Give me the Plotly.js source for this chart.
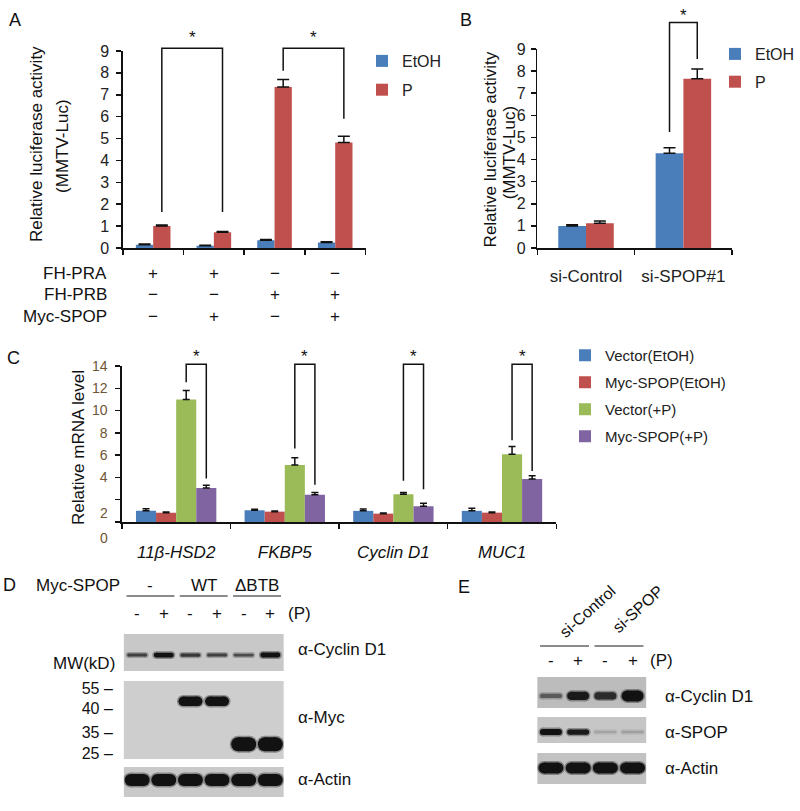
<!DOCTYPE html>
<html>
<head>
<meta charset="utf-8">
<script src="https://cdn.plot.ly/plotly-3.0.1.min.js"></script>
<style>
  html, body { margin: 0; padding: 0; background: #fff; }
  #fig { width: 800px; height: 811px; }
</style>
</head>
<body>
<div id="fig"></div>
<script>
// ================================
// DATA
// ================================

// A: MMTV-Luc reporter, PR-A / PR-B +/- Myc-SPOP
const aGroups = [0, 1, 2, 3];
const aEtOH = [0.15, 0.10, 0.35, 0.25];
const aEtOHErr = [0.03, 0.03, 0.04, 0.04];
const aP = [1.0, 0.72, 7.35, 4.82];
const aPErr = [0.05, 0.03, 0.35, 0.28];
const aRowNames = ["FH-PRA", "FH-PRB", "Myc-SPOP"];
const aRowSigns = [
  ["+", "+", "−", "−"],
  ["−", "−", "+", "+"],
  ["−", "+", "−", "+"]
];
// significance brackets (group index of left/right P bar, leg ends, top)
const aSigLeft = [0, 2];
const aSigRight = [1, 3];
const aSigLeftY = [1.65, 8.1];
const aSigRightY = [1.65, 5.9];
const aSigTop = [9.12, 9.12];

// B: si-SPOP knockdown
const bGroups = ["si-Control", "si-SPOP#1"];
const bEtOH = [1.0, 4.28];
const bEtOHErr = [0.05, 0.25];
const bP = [1.12, 7.65];
const bPErr = [0.1, 0.45];
const bSigGroup = [1];
const bSigLeftY = [5.25];
const bSigRightY = [8.55];
const bSigTop = [10.2];

// C: qPCR of PR target genes
const cGenes = ["11β-HSD2", "FKBP5", "Cyclin D1", "MUC1"];
const cNames = ["Vector(EtOH)", "Myc-SPOP(EtOH)", "Vector(+P)", "Myc-SPOP(+P)"];
const cVecEtOH = [1.0, 1.05, 1.0, 1.0];
const cVecEtOHErr = [0.2, 0.1, 0.17, 0.23];
const cMycEtOH = [0.84, 0.93, 0.75, 0.84];
const cMycEtOHErr = [0.05, 0.05, 0.05, 0.05];
const cVecP = [11.0, 5.12, 2.5, 6.08];
const cVecPErr = [0.8, 0.65, 0.15, 0.7];
const cMycP = [3.05, 2.44, 1.42, 3.85];
const cMycPErr = [0.25, 0.2, 0.27, 0.3];
const cSigLeftY = [12.55, 6.6, 3.7, 7.34];
const cSigRightY = [3.9, 3.34, 2.95, 4.58];
const cSigTop = [14.15, 14.15, 14.15, 14.15];
const cYTicks = [0, 2, 4, 6, 8, 10, 12, 14];

// D: western blot, Myc-SPOP WT / ΔBTB
const dGroups = ["-", "WT", "ΔBTB"];
const dSigns = ["-", "+", "-", "+", "-", "+"];
const dCyclin = [0.55, 0.85, 0.6, 0.55, 0.5, 0.9];
const dMycWT = [0, 0, 1, 1, 0, 0];
const dMycDelta = [0, 0, 0, 0, 1, 1];
const dActin = [1, 1, 1, 1, 1, 1];
const mwLabels = ["55", "40", "35", "25"];
const dBlotNames = ["α-Cyclin D1", "α-Myc", "α-Actin"];

// E: western blot, si-SPOP
const eGroups = ["si-Control", "si-SPOP"];
const eSigns = ["-", "+", "-", "+"];
const eCyclin = [0.4, 0.75, 0.65, 1.0];
const eSpop = [0.85, 0.75, 0.1, 0.12];
const eActin = [1, 1, 1, 1];
const eBlotNames = ["α-Cyclin D1", "α-SPOP", "α-Actin"];

// ================================
// LAYOUT HELPERS
// ================================
const W = 800, H = 811;
const FONT = "Arial, 'Liberation Sans', sans-serif";
const px = (x) => x / W;
const py = (y) => 1 - y / H;
const xdom = (a, b) => [px(a), px(b)];
const ydom = (top, bottom) => [py(bottom), py(top)];

const BLUE = "#4a7ebb", RED = "#c0504d", GREEN = "#9bbb59", PURPLE = "#8064a2";
const INK = "#111";

const traces = [];
const annotations = [];
const shapes = [];

function barTrace(x, y, err, k, n, gap, color, name, axN, legend, capW) {
  const w = (1 - gap) / n;
  return {
    type: "bar", x: x, y: y, name: name,
    xaxis: "x" + axN, yaxis: "y" + axN, legend: legend, legendgroup: legend + k,
    width: w, offset: -(1 - gap) / 2 + k * w,
    marker: { color: color, line: { width: 0 } },
    error_y: {
      type: "data", symmetric: false, array: err, arrayminus: err.map(() => 0),
      color: INK, thickness: 1.5, width: capW
    },
    hoverinfo: "skip"
  };
}

function barCenter(g, k, n, gap) {
  const w = (1 - gap) / n;
  return g - (1 - gap) / 2 + (k + 0.5) * w;
}

// brackets live on a taller twin y axis (same scale) so they can rise above the top tick
function bracket(xl, xr, yl, yr, top, xa, ya, starShift) {
  traces.push({
    type: "scatter", mode: "lines", x: [xl, xl, xr, xr], y: [yl, top, top, yr],
    xaxis: xa, yaxis: ya, line: { color: INK, width: 1.5 },
    showlegend: false, hoverinfo: "skip"
  });
  annotations.push({
    xref: xa, yref: ya, x: (xl + xr) / 2, y: top, xanchor: "center", yshift: starShift,
    yanchor: "bottom", text: "*", showarrow: false, font: { size: 17, color: INK }
  });
}

// -------------------------------
// A
// -------------------------------
const gapAB = 0.43, gapC = 0.26;
traces.push(barTrace(aGroups, aEtOH, aEtOHErr, 0, 2, gapAB, BLUE, "EtOH", "", "legend", 6));
traces.push(barTrace(aGroups, aP, aPErr, 1, 2, gapAB, RED, "P", "", "legend", 6));
aSigLeft.forEach((g, i) => {
  bracket(barCenter(g, 1, 2, gapAB), barCenter(aSigRight[i], 1, 2, gapAB),
    aSigLeftY[i], aSigRightY[i], aSigTop[i], "x", "y10", -1);
});
const aRowY = [273, 295, 317];
aRowNames.forEach((nm, r) => {
  annotations.push({ xref: "paper", yref: "paper", x: px(109), y: py(aRowY[r]), xanchor: "right",
    yanchor: "middle", text: nm, showarrow: false, font: { size: 17 } });
  aRowSigns[r].forEach((s, g) => {
    annotations.push({ xref: "x", yref: "paper", x: aGroups[g], y: py(aRowY[r]),
      xanchor: "center", yanchor: "middle", text: s, showarrow: false, font: { size: 17 } });
  });
});

// -------------------------------
// B
// -------------------------------
const bX = bGroups.map((_, i) => i);
traces.push(barTrace(bX, bEtOH, bEtOHErr, 0, 2, gapAB, BLUE, "EtOH", 2, "legend2", 6));
traces.push(barTrace(bX, bP, bPErr, 1, 2, gapAB, RED, "P", 2, "legend2", 6));
bSigGroup.forEach((g, i) => {
  bracket(barCenter(g, 0, 2, gapAB), barCenter(g, 1, 2, gapAB),
    bSigLeftY[i], bSigRightY[i], bSigTop[i], "x2", "y11", -5);
});

// -------------------------------
// C
// -------------------------------
const cX = cGenes.map((_, i) => i);
const cSeries = [[cVecEtOH, cVecEtOHErr, BLUE], [cMycEtOH, cMycEtOHErr, RED],
                 [cVecP, cVecPErr, GREEN], [cMycP, cMycPErr, PURPLE]];
cSeries.forEach((s, k) => {
  traces.push(barTrace(cX, s[0], s[1], k, 4, gapC, s[2], cNames[k], 3, "legend3", 3.5));
});
cX.forEach((g, i) => {
  bracket(barCenter(g, 2, 4, gapC), barCenter(g, 3, 4, gapC),
    cSigLeftY[i], cSigRightY[i], cSigTop[i], "x3", "y12", -4);
});
// the 2 and 0 labels sit lower than their ticks in the original
annotations.push({ xref: "paper", yref: "y3", x: px(110), y: 2, yshift: -13, xanchor: "right",
  yanchor: "middle", text: "2", showarrow: false, font: { size: 14, color: "#6e5535" } });
annotations.push({ xref: "paper", yref: "y3", x: px(110), y: 0, yshift: -16, xanchor: "right",
  yanchor: "middle", text: "0", showarrow: false, font: { size: 14, color: "#6e5535" } });

// -------------------------------
// BLOTS (D and E)
// -------------------------------
const DARK = [18, 18, 18];
function hex2rgb(h) { return [1, 3, 5].map((i) => parseInt(h.slice(i, i + 2), 16)); }
function mix(bg, a) {
  const b = hex2rgb(bg);
  return "rgb(" + b.map((c, i) => Math.round(c + (DARK[i] - c) * a)).join(",") + ")";
}

function bands(values, axN, cfg) {
  values.forEach((v, i) => {
    if (!v) return;
    const lane = i + 1;
    const lw = Math.max(2.5, cfg.maxW * v);
    const a = Math.min(1, 1.2 * Math.pow(v, 0.8));
    const half = Math.max(0.05, (cfg.halfPx - lw / 2) / cfg.lanePx);
    [[lw + 3, a * 0.35], [lw, a]].forEach(([w, al]) => {
      traces.push({
        type: "scatter", mode: "lines+markers",
        x: [lane - half, lane + half], y: [cfg.bandY, cfg.bandY],
        xaxis: "x" + axN, yaxis: "y" + axN,
        line: { color: mix(cfg.bg, al), width: w },
        marker: { color: mix(cfg.bg, al), size: w },
        showlegend: false, hoverinfo: "skip"
      });
    });
  });
}

// blot frames (pixel boxes)
const blotBox = {
  4: { x: [124, 284], y: [634, 671], bg: "#c8c8c8", lanes: 6 },
  5: { x: [124, 284], y: [681, 759], bg: "#cecece", lanes: 6 },
  6: { x: [124, 284], y: [767, 797], bg: "#c9c9c9", lanes: 6 },
  7: { x: [538, 647], y: [677, 708], bg: "#bcbcbc", lanes: 4 },
  8: { x: [538, 647], y: [717, 743], bg: "#c6c6c6", lanes: 4 },
  9: { x: [538, 647], y: [753, 784], bg: "#c2c2c2", lanes: 4 }
};
const lanePx = (n) => (blotBox[n].x[1] - blotBox[n].x[0]) / blotBox[n].lanes;

bands(dCyclin, 4, { bandY: 0.43, maxW: 5.5, halfPx: 10, lanePx: lanePx(4), bg: blotBox[4].bg });
bands(dMycWT, 5, { bandY: 0.74, maxW: 9.5, halfPx: 12, lanePx: lanePx(5), bg: blotBox[5].bg });
bands(dMycDelta, 5, { bandY: 0.19, maxW: 14, halfPx: 12.5, lanePx: lanePx(5), bg: blotBox[5].bg });
bands(dActin, 6, { bandY: 0.57, maxW: 12, halfPx: 12.5, lanePx: lanePx(6), bg: blotBox[6].bg });
bands(eCyclin, 7, { bandY: 0.39, maxW: 11, halfPx: 11, lanePx: lanePx(7), bg: blotBox[7].bg });
bands(eSpop, 8, { bandY: 0.42, maxW: 7, halfPx: 11, lanePx: lanePx(8), bg: blotBox[8].bg });
bands(eActin, 9, { bandY: 0.52, maxW: 11, halfPx: 12.5, lanePx: lanePx(9), bg: blotBox[9].bg });

// free text, centred on a pixel position unless told otherwise
const txt = (x, y, t, opts) => annotations.push(Object.assign({
  xref: "paper", yref: "paper", x: px(x), y: py(y), text: t, showarrow: false,
  xanchor: "center", yanchor: "middle", font: { size: 17, color: INK }
}, opts || {}));

// D text
txt(78, 585, "Myc-SPOP");
dGroups.forEach((gname, g) => {
  annotations.push({ xref: "x4", yref: "paper", x: 2 * g + 1.5, y: py(585), text: gname,
    xanchor: "center", yanchor: "middle", showarrow: false, font: { size: 17, color: INK } });
  shapes.push({ type: "line", xref: "x4", yref: "paper", x0: 2 * g + 1 - 0.4, x1: 2 * g + 2 + 0.4,
    y0: py(596), y1: py(596), line: { color: "#666", width: 1.5 } });
});
dSigns.forEach((s, i) => {
  annotations.push({ xref: "x4", yref: "paper", x: i + 1, y: py(613), text: s,
    xanchor: "center", yanchor: "middle", showarrow: false, font: { size: 17, color: INK } });
});
txt(300, 613, "(P)");
txt(117, 663, "MW(kD)", { xanchor: "right" });
[649, 717, 779].forEach((y, i) => txt(296, y, dBlotNames[i], { xanchor: "left" }));

// E text
eGroups.forEach((gname, g) => {
  shapes.push({ type: "line", xref: "x7", yref: "paper", x0: 2 * g + 1 - 0.4, x1: 2 * g + 2 + 0.4,
    y0: py(646), y1: py(646), line: { color: "#666", width: 1.5 } });
});
txt(588, 611, eGroups[0], { textangle: -42, font: { size: 16, color: INK } });
txt(638, 609, eGroups[1], { textangle: -42, font: { size: 16, color: INK } });
eSigns.forEach((s, i) => {
  annotations.push({ xref: "x7", yref: "paper", x: i + 1, y: py(660), text: s,
    xanchor: "center", yanchor: "middle", showarrow: false, font: { size: 17, color: INK } });
});
txt(662, 660, "(P)");
[696, 732, 768].forEach((y, i) => txt(664, y, eBlotNames[i], { xanchor: "left" }));

// y titles and panel letters
txt(37, 144, "Relative luciferase activity", { textangle: -90 });
txt(63, 146, "(MMTV-Luc)", { textangle: -90 });
txt(492, 149, "Relative luciferase activity", { textangle: -90 });
txt(510, 152, "(MMTV-Luc)", { textangle: -90 });
txt(78, 447, "Relative mRNA level", { textangle: -90 });
[["A", 15, 20], ["B", 467, 20], ["C", 14, 358], ["D", 10, 585], ["E", 465, 587]].forEach(
  (l) => txt(l[1], l[2], l[0], { font: { size: 18, color: INK } }));

// blot backgrounds
Object.keys(blotBox).forEach((n) => {
  shapes.push({ type: "rect", xref: "x" + n + " domain", yref: "y" + n + " domain",
    x0: 0, x1: 1, y0: 0, y1: 1, fillcolor: blotBox[n].bg, line: { width: 0 }, layer: "below" });
});

// ================================
// AXES
// ================================
const axBase = {
  showline: true, linecolor: INK, linewidth: 1.5, ticks: "outside", ticklen: 5,
  tickwidth: 1.5, tickcolor: INK, showgrid: false, zeroline: false, fixedrange: true
};
const hidden = { visible: false, fixedrange: true, showgrid: false, zeroline: false };

// pixel frames of the three charts: [left, right], [top tick, zero line]
const aFrame = { x: [123, 366], y: [51, 248], top: 9 };
const bFrame = { x: [538, 733], y: [49, 248], top: 9 };
const cFrame = { x: [122, 557], y: [366, 522], top: 14 };
// twin axis: same scale, taller domain (for brackets and stars)
function twin(f, xa, newTop) {
  const unit = (f.y[1] - f.y[0]) / f.top;
  return Object.assign({}, hidden, { domain: ydom(f.y[1] - unit * newTop, f.y[1]),
    range: [0, newTop], anchor: xa });
}

const layout = {
  width: W, height: H, autosize: false,
  margin: { l: 0, r: 0, t: 0, b: 0 },
  paper_bgcolor: "white", plot_bgcolor: "rgba(0,0,0,0)",
  font: { family: FONT, color: INK },
  showlegend: true,
  annotations: annotations,
  shapes: shapes,

  xaxis: Object.assign({}, axBase, { domain: xdom(aFrame.x[0], aFrame.x[1]), range: [-0.5, 3.5], anchor: "y",
    tickvals: [-0.5, 0.5, 1.5, 2.5, 3.5], showticklabels: false }),
  yaxis: Object.assign({}, axBase, { domain: ydom(aFrame.y[0], aFrame.y[1]), range: [0, 9], dtick: 1, anchor: "x",
    tickfont: { size: 16, color: "#222" }, ticklabelstandoff: 4 }),
  yaxis10: twin(aFrame, "x", 10),

  xaxis2: Object.assign({}, axBase, { domain: xdom(bFrame.x[0], bFrame.x[1]), range: [-0.5, 1.5], anchor: "y2",
    tickvals: bX, ticktext: bGroups, ticks: "", tickfont: { size: 17, color: "#222" },
    ticklabelstandoff: 12,
    minor: { tickvals: [-0.5, 0.5, 1.5], ticks: "outside", ticklen: 5, tickwidth: 1.5, tickcolor: INK } }),
  yaxis2: Object.assign({}, axBase, { domain: ydom(bFrame.y[0], bFrame.y[1]), range: [0, 9], dtick: 1, anchor: "x2",
    tickfont: { size: 16, color: "#222" }, ticklabelstandoff: 2 }),
  yaxis11: twin(bFrame, "x2", 10.7),

  xaxis3: Object.assign({}, axBase, { domain: xdom(cFrame.x[0], cFrame.x[1]), range: [-0.5, 3.5], anchor: "y3",
    tickvals: cX, ticktext: cGenes, ticks: "",
    tickfont: { size: 17, color: INK, style: "italic" }, ticklabelstandoff: 14,
    minor: { tickvals: [-0.5, 0.5, 1.5, 2.5, 3.5], ticks: "outside", ticklen: 5, tickwidth: 1.5, tickcolor: INK } }),
  yaxis3: Object.assign({}, axBase, { domain: ydom(cFrame.y[0], cFrame.y[1]), range: [0, 14], anchor: "x3",
    tickvals: cYTicks, ticktext: cYTicks.map((v) => (v < 4 ? "" : String(v))),
    tickfont: { size: 14, color: "#6e5535" }, ticklabelstandoff: 5 }),
  yaxis12: twin(cFrame, "x3", 15),

  legend: { x: px(362), y: py(44), xanchor: "left", yanchor: "top", font: { size: 16, color: "#222" },
    traceorder: "grouped", tracegroupgap: 5, bgcolor: "rgba(0,0,0,0)" },
  legend2: { x: px(716), y: py(37), xanchor: "left", yanchor: "top", font: { size: 16, color: "#222" },
    traceorder: "grouped", tracegroupgap: 4, bgcolor: "rgba(0,0,0,0)" },
  legend3: { x: px(565), y: py(339), xanchor: "left", yanchor: "top", font: { size: 15, color: "#222" },
    traceorder: "grouped", tracegroupgap: 4.5, bgcolor: "rgba(0,0,0,0)" }
};

// blot axes
const blotAxis = { showline: false, showgrid: false, zeroline: false, ticks: "", showticklabels: false, fixedrange: true };
Object.keys(blotBox).forEach((n) => {
  const b = blotBox[n];
  layout["xaxis" + n] = Object.assign({}, blotAxis, { domain: xdom(b.x[0], b.x[1]),
    range: [0.5, b.lanes + 0.5], anchor: "y" + n });
  layout["yaxis" + n] = Object.assign({}, blotAxis, { domain: ydom(b.y[0], b.y[1]),
    range: [0, 1], anchor: "x" + n });
});
// molecular weight markers on the Myc blot
Object.assign(layout.yaxis5, {
  showticklabels: true, tickvals: [0.91, 0.654, 0.346, 0.077],
  ticktext: mwLabels.map((m) => m + " –"), tickfont: { size: 16, color: INK }, ticklabelstandoff: 10
});

Plotly.newPlot("fig", traces, layout, { displayModeBar: false, staticPlot: true });
</script>
</body>
</html>
